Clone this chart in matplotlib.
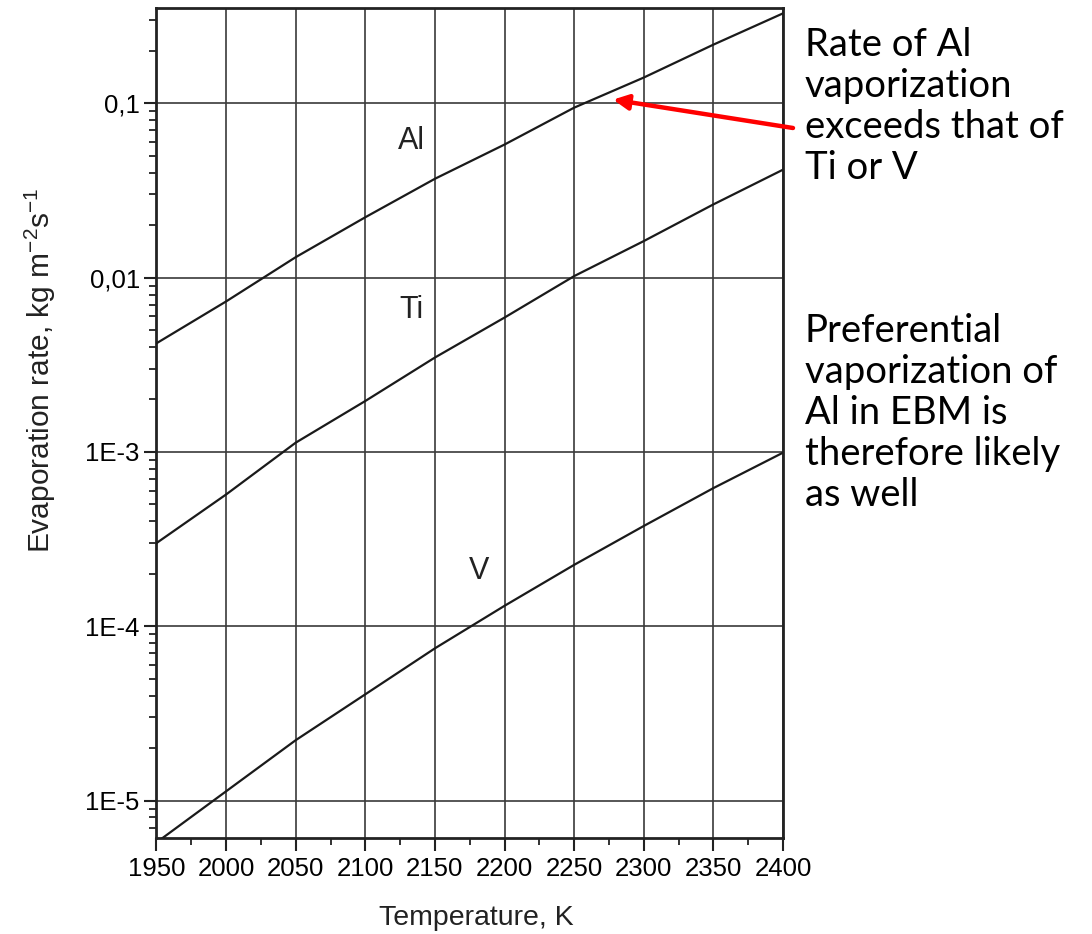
import matplotlib
matplotlib.use("Agg")
import matplotlib.pyplot as plt
from matplotlib.ticker import FixedLocator, FixedFormatter, LogLocator, MultipleLocator, NullFormatter

# values
temps = [1950, 2000, 2050, 2100, 2150, 2200, 2250, 2300, 2350, 2400]
al_rate = [4.2e-3, 7.3e-3, 1.31e-2, 2.22e-2, 3.69e-2, 5.8e-2, 9.44e-2, 1.405e-1, 2.17e-1, 3.28e-1]
ti_rate = [3.0e-4, 5.7e-4, 1.13e-3, 1.96e-3, 3.48e-3, 5.9e-3, 1.02e-2, 1.62e-2, 2.63e-2, 4.16e-2]
v_rate = [5.75e-6, 1.13e-5, 2.22e-5, 4.07e-5, 7.47e-5, 1.31e-4, 2.25e-4, 3.76e-4, 6.2e-4, 9.9e-4]

curve_names = ["Al", "Ti", "V"]
label_pos = [(2133, 0.061), (2133, 0.0065), (2182, 2.07e-4)]

x_ticks = list(range(1950, 2401, 50))
y_ticks = [1e-5, 1e-4, 1e-3, 1e-2, 1e-1]
y_tick_labels = ["1E-5", "1E-4", "1E-3", "0,01", "0,1"]

note_top = ["Rate of Al", "vaporization", "exceeds that of", "Ti or V"]
note_bottom = ["Preferential", "vaporization of", "Al in EBM is", "therefore likely", "as well"]
arrow_tip = (2278, 0.105)

narrow = ["Liberation Sans Narrow", "Liberation Sans", "DejaVu Sans"]
plt.rcParams["font.family"] = ["Liberation Sans", "DejaVu Sans"]
plt.rcParams["mathtext.default"] = "regular"

fig = plt.figure(figsize=(10.92, 9.34), dpi=100)
ax = fig.add_axes([0.1433, 0.1028, 0.5737, 0.8886])

for series in (al_rate, ti_rate, v_rate):
    ax.plot(temps, series, color="#1a1a1a", lw=1.6, zorder=3)

for name, (tx, ty) in zip(curve_names, label_pos):
    ax.text(tx, ty, name, fontsize=22, ha="center", va="center", color="#222222",
            family=narrow)

ax.set_yscale("log")
ax.set_xlim(1950, 2400)
ax.set_ylim(6.1e-6, 0.352)

ax.xaxis.set_major_locator(FixedLocator(x_ticks))
ax.xaxis.set_minor_locator(MultipleLocator(25))
ax.yaxis.set_major_locator(FixedLocator(y_ticks))
ax.yaxis.set_major_formatter(FixedFormatter(y_tick_labels))
ax.yaxis.set_minor_locator(LogLocator(base=10, subs=range(2, 10)))
ax.yaxis.set_minor_formatter(NullFormatter())

ax.grid(True, which="major", color="#3a3a3a", lw=1.2)
ax.tick_params(which="major", direction="out", length=9, width=1.5, labelsize=18.5, color="#222222")
ax.tick_params(which="minor", direction="out", length=5, width=1.3, color="#222222")
ax.tick_params(axis="x", pad=5)
ax.tick_params(axis="y", pad=3)
for lbl in ax.get_xticklabels() + ax.get_yticklabels():
    lbl.set_family(narrow)
for sp in ax.spines.values():
    sp.set_linewidth(2)
    sp.set_color("#222222")

ax.set_xlabel("Temperature, K", fontsize=20.5, color="#222222")
ax.xaxis.set_label_coords(0.51, -0.081)
ax.xaxis.label.set_va("top")
ax.set_ylabel("Evaporation rate, kg m$^{-2}$s$^{-1}$", fontsize=21.5, color="#222222")
ax.yaxis.set_label_coords(-0.157, 0.563)

ax.annotate("", xy=arrow_tip, xycoords="data",
            xytext=(793 / 1092, 1 - 128 / 934), textcoords="figure fraction",
            arrowprops=dict(arrowstyle="-|>,head_length=0.9,head_width=0.45",
                            color="#ff0000", lw=3.2, shrinkA=0, shrinkB=0),
            annotation_clip=False)

fig.text(805 / 1092, 1 - 27 / 934, "\n".join(note_top), fontsize=27.5, family="Lato",
         va="top", ha="left", linespacing=1.17)
fig.text(805 / 1092, 1 - 313 / 934, "\n".join(note_bottom), fontsize=27.5, family="Lato",
         va="top", ha="left", linespacing=1.17)

fig.savefig("out.png", dpi=100)
